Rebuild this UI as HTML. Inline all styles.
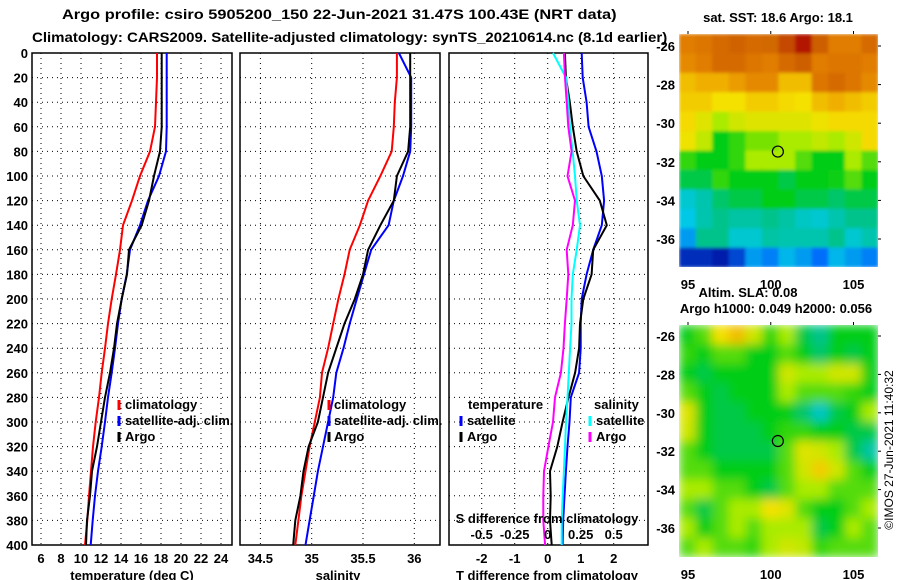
<!DOCTYPE html>
<html><head><meta charset="utf-8"><style>
body{margin:0;background:#fff;}
svg{display:block;font-family:"Liberation Sans",Arial,sans-serif;font-weight:bold;}
</style></head><body>
<svg id="chart" width="900" height="580" viewBox="0 0 900 580" xmlns="http://www.w3.org/2000/svg">
<defs>
<filter id="blur" x="-5%" y="-5%" width="110%" height="110%"><feGaussianBlur stdDeviation="5" edgeMode="duplicate"/></filter>
<clipPath id="slaclip"><rect x="679" y="325" width="199" height="232"/></clipPath>
<filter id="blur2" x="-5%" y="-5%" width="110%" height="110%"><feGaussianBlur stdDeviation="1.5" edgeMode="duplicate"/></filter>
<clipPath id="sstclip"><rect x="679" y="34" width="199" height="233"/></clipPath>
</defs>
<rect width="900" height="580" fill="#fff"/>
<text id="t1" x="0" y="0" font-size="14">Argo profile: csiro 5905200_150 22-Jun-2021 31.47S 100.43E (NRT data)</text>
<text id="t2" x="0" y="0" font-size="14">Climatology: CARS2009. Satellite-adjusted climatology: synTS_20210614.nc (8.1d earlier)</text>
<g id="g"></g>
</svg>
<script>
const depths=[0,20,40,60,80,100,120,140,160,180,200,220,240,260,280,300,320,340,360,380,400];
const tempClim=[17.6,17.6,17.5,17.4,16.9,15.9,15.1,14.2,13.9,13.5,13.07,12.7,12.4,12.07,11.8,11.47,11.2,11.0,10.8,10.63,10.4];
const tempSat=[18.57,18.57,18.57,18.57,18.5,17.8,16.7,15.9,14.9,14.57,14.07,13.7,13.4,13.07,12.7,12.4,12.07,11.7,11.4,11.17,10.97];
const tempArgo=[18.07,18.07,18.07,18.07,17.9,17.3,16.8,16.07,14.8,14.6,14.07,13.6,13.3,12.9,12.4,12.0,11.6,11.1,10.9,10.6,10.5];
const salClim=[35.83,35.83,35.81,35.8,35.78,35.67,35.55,35.47,35.37,35.32,35.26,35.21,35.16,35.1,35.08,35.03,34.98,34.94,34.9,34.87,34.84];
const salSat=[35.85,35.97,35.97,35.97,35.96,35.89,35.8,35.75,35.58,35.51,35.44,35.37,35.31,35.24,35.21,35.16,35.11,35.06,35.02,34.98,34.94];
const salArgo=[35.96,35.96,35.96,35.96,35.94,35.83,35.8,35.67,35.55,35.5,35.42,35.32,35.24,35.16,35.11,35.06,34.97,34.92,34.89,34.84,34.82];
const tDiffSat=[1.03,1.06,1.18,1.24,1.48,1.64,1.71,1.64,1.38,1.18,1.03,1.0,1.0,0.95,0.7,0.66,0.6,0.55,0.51,0.47,0.45];
const tDiffArgo=[0.52,0.55,0.67,0.76,0.88,1.08,1.58,1.79,1.38,1.33,1.08,0.98,0.95,0.83,0.63,0.45,0.29,0.07,0.09,0.07,0.12];
const sDiffSat=[0.04,0.139,0.156,0.169,0.189,0.207,0.22,0.245,0.22,0.19,0.18,0.18,0.17,0.16,0.15,0.139,0.131,0.123,0.114,0.106,0.106];
const sDiffArgo=[0.123,0.131,0.144,0.156,0.181,0.15,0.207,0.19,0.144,0.156,0.144,0.13,0.12,0.1,0.055,0.04,0.005,-0.028,-0.033,-0.033,-0.02];
const tTicks=[6,8,10,12,14,16,18,20,22,24];
const sTicks=[34.5,35,35.5,36];
const dTicks=[-2,-1,0,1,2];
const sdTicks=[-0.5,-0.25,0,0.25,0.5];
const sstGrid=[
[.8,.82,.85,.87,.85,.86,.9,.95,.88,.8,.8,.85],
[.78,.8,.85,.85,.82,.8,.85,.88,.8,.82,.82,.8],
[.7,.72,.72,.75,.78,.78,.7,.7,.82,.85,.82,.78],
[.68,.68,.65,.65,.68,.68,.66,.65,.7,.72,.7,.68],
[.66,.62,.55,.6,.62,.62,.62,.62,.64,.66,.66,.66],
[.64,.58,.45,.48,.52,.52,.55,.55,.58,.55,.6,.66],
[.48,.45,.45,.48,.55,.55,.55,.5,.45,.45,.55,.5],
[.42,.42,.48,.45,.45,.45,.42,.45,.45,.46,.5,.45],
[.32,.35,.4,.42,.42,.45,.45,.42,.42,.4,.42,.42],
[.3,.35,.38,.36,.36,.38,.36,.33,.32,.35,.38,.38],
[.25,.38,.38,.32,.32,.36,.35,.35,.35,.38,.32,.35],
[.12,.12,.1,.15,.25,.22,.28,.25,.2,.28,.25,.22]];
const slaGrid=[
[.45,.5,.65,.7,.6,.48,.55,.42,.38,.45,.45,.45],
[.48,.45,.5,.5,.45,.45,.5,.45,.4,.45,.42,.45],
[.45,.42,.45,.45,.45,.45,.6,.55,.55,.6,.6,.45],
[.5,.45,.42,.45,.45,.45,.55,.5,.5,.5,.48,.45],
[.62,.45,.42,.42,.45,.45,.45,.4,.33,.42,.45,.55],
[.6,.45,.42,.42,.42,.45,.48,.48,.45,.45,.42,.42],
[.5,.45,.42,.42,.42,.42,.5,.62,.6,.55,.42,.36],
[.5,.5,.45,.45,.45,.45,.5,.6,.68,.6,.5,.45],
[.55,.55,.5,.5,.45,.42,.5,.55,.55,.5,.5,.5],
[.5,.42,.5,.55,.55,.65,.62,.5,.45,.45,.5,.55],
[.55,.45,.5,.55,.5,.55,.55,.55,.42,.45,.55,.5],
[.5,.55,.5,.5,.48,.55,.6,.58,.48,.5,.5,.5]];
const latTicks=[-26,-28,-30,-32,-34,-36];
const lonTicks=[95,100,105];
const argoLon=100.43, argoLat=-31.47;

const NS="http://www.w3.org/2000/svg";
const G=document.getElementById('g');
function fitText(id,x,y,w){const t=document.getElementById(id);const L=t.getComputedTextLength();t.setAttribute('transform','translate('+x+','+y+') scale('+(w/L)+',1)');}
fitText('t1',62,19,555);
fitText('t2',32,42,636);
function el(t,a,p){const e=document.createElementNS(NS,t);for(const k in a)e.setAttribute(k,a[k]);(p||G).appendChild(e);return e;}
const top0=53,bot=545;
const yD=d=>top0+(bot-top0)*d/400;
function panel(name,x0,x1){
  const r=el('rect',{x:x0,y:top0,width:x1-x0,height:bot-top0,fill:'none',stroke:'#000','stroke-width':1.5});
  
  
  for(let d=20;d<400;d+=20){
    const l=el('line',{x1:x0,x2:x1,y1:yD(d),y2:yD(d),stroke:'#000','stroke-dasharray':'1 4','stroke-width':1});
    
    
  }
}
function vgrid(name,xs){
  xs.forEach(x=>{const l=el('line',{x1:x,x2:x,y1:top0,y2:bot,stroke:'#000','stroke-dasharray':'1 4','stroke-width':1});
  
  });
}
function line(name,vals,fx,color){
  let p='';
  vals.forEach((v,i)=>{p+=(i?'L':'M')+fx(v).toFixed(1)+','+yD(depths[i]).toFixed(1);});
  const e=el('path',{d:p,fill:'none',stroke:color,'stroke-width':2});
  
  
}
function txt(name,x,y,s,size,anchor,parent){
  const t=el('text',{x:x,y:y,'font-size':size||13,'text-anchor':anchor||'start'},parent);t.textContent=s;
  
  
  return t;
}
function legMark(name,x,y,c){
  const l=el('line',{x1:x,x2:x,y1:y-10,y2:y,stroke:c,'stroke-width':3});
  
  
}
for(let d=0;d<=400;d+=20){txt('depth-tick-label',28,yD(d)+5,String(d),13,'end');}
// Panel 1
const xT=v=>41+(v-6)*10;
panel('temperature-panel',32,232);
vgrid('temperature',tTicks.map(xT));
line('temp-climatology-line',tempClim,xT,'#f00');
line('temp-satellite-line',tempSat,xT,'#00f');
line('temp-argo-line',tempArgo,xT,'#000');
tTicks.forEach(t=>txt('temp-tick-label',xT(t),563,String(t),13,'middle'));
txt('temp-axis-title',132,580,'temperature (deg C)',13,'middle');
[['climatology','#f00'],['satellite-adj. clim.','#00f'],['Argo','#000']].forEach((a,i)=>{legMark('temp-legend-marker',119,410+i*16,a[1]);txt('temp-legend-entry',125,409+i*16,a[0],13);});
// Panel 2
const xS=v=>311.7+(v-35)*102.6;
panel('salinity-panel',240,440);
vgrid('salinity',sTicks.map(xS));
line('sal-climatology-line',salClim,xS,'#f00');
line('sal-satellite-line',salSat,xS,'#00f');
line('sal-argo-line',salArgo,xS,'#000');
sTicks.forEach(t=>txt('sal-tick-label',xS(t),563,String(t),13,'middle'));
txt('sal-axis-title',338,580,'salinity',13,'middle');
[['climatology','#f00'],['satellite-adj. clim.','#00f'],['Argo','#000']].forEach((a,i)=>{legMark('sal-legend-marker',329,410+i*16,a[1]);txt('sal-legend-entry',334,409+i*16,a[0],13);});
// Panel 3
const xD=v=>547.7+v*33;
const xSD=v=>547.7+v*132;
panel('difference-panel',449,648);
vgrid('difference',dTicks.map(xD));
line('tdiff-satellite-line',tDiffSat,xD,'#00f');
line('tdiff-argo-line',tDiffArgo,xD,'#000');
line('sdiff-satellite-line',sDiffSat,xSD,'#0ff');
line('sdiff-argo-line',sDiffArgo,xSD,'#f0f');
dTicks.forEach(t=>txt('tdiff-tick-label',xD(t),563,String(t),13,'middle'));
sdTicks.forEach(t=>txt('sdiff-tick-label',xSD(t),539,String(t),13,'middle'));
txt('sdiff-axis-title',547,523,'S difference from climatology',13,'middle');
txt('tdiff-axis-title',547,580,'T difference from climatology',13,'middle');
txt('tdiff-legend-title',468,409,'temperature',13);
txt('sdiff-legend-title',594,409,'salinity',13);
legMark('tdiff-legend-marker',461,426,'#00f');txt('tdiff-legend-entry',467,425,'satellite',13);
legMark('tdiff-legend-marker',461,442,'#000');txt('tdiff-legend-entry',467,441,'Argo',13);
legMark('sdiff-legend-marker',590,426,'#0ff');txt('sdiff-legend-entry',596,425,'satellite',13);
legMark('sdiff-legend-marker',590,442,'#f0f');txt('sdiff-legend-entry',596,441,'Argo',13);
// colormap
const cmapStops=[[0.1,[0,30,170]],[0.2,[0,110,250]],[0.3,[0,200,230]],[0.38,[0,195,140]],[0.45,[0,205,20]],[0.55,[170,235,0]],[0.65,[245,225,0]],[0.72,[240,175,0]],[0.8,[225,125,0]],[0.88,[205,95,0]],[0.97,[170,0,0]]];
function cmap(v){
  if(v<=cmapStops[0][0])return 'rgb('+cmapStops[0][1]+')';
  for(let i=1;i<cmapStops.length;i++){
    if(v<=cmapStops[i][0]){const a=cmapStops[i-1],b=cmapStops[i];const f=(v-a[0])/(b[0]-a[0]);
      return 'rgb('+a[1].map((c,k)=>Math.round(c+(b[1][k]-c)*f)).join(',')+')';}
  }
  return 'rgb('+cmapStops[cmapStops.length-1][1]+')';
}
function map(name,grid,x0,x1,y0,y1,lat26y,lat36y,filt,clip){
  const lonX=l=>688+(l-95)*16.55;
  const latY=l=>lat26y+(-26-l)*(lat36y-lat26y)/10;
  const rows=grid.length,cols=grid[0].length;
  const cw=(x1-x0)/cols,ch=(y1-y0)/rows;
  const wrap=el('g',{'clip-path':'url(#'+clip+')'});
  
  
  const cg=el('g',{filter:'url(#'+filt+')'},wrap);
  grid.forEach((row,i)=>row.forEach((v,j)=>{
    const c=el('rect',{x:(x0+j*cw).toFixed(2),y:(y0+i*ch).toFixed(2),width:(cw+0.6).toFixed(2),height:(ch+0.6).toFixed(2),fill:cmap(v)},cg);
    
    
  }));
  latTicks.forEach(l=>{el('line',{x1:x1,x2:x1+3,y1:latY(l),y2:latY(l),stroke:'#000'});txt(name+'-lat-label',675,latY(l)+5,String(l),13,'end');});
  lonTicks.forEach(l=>{el('line',{x1:lonX(l),x2:lonX(l),y1:y0,y2:y0-3,stroke:'#000'});});
  const m=el('circle',{cx:lonX(argoLon),cy:latY(argoLat),r:5.5,fill:'none',stroke:'#000','stroke-width':1.2});
  
  
  return lonX;
}
const lx=map('sst-map',sstGrid,679,878,34,267,46,239,'blur2','sstclip');
lonTicks.forEach(l=>txt('sst-lon-label',lx(l),289,String(l),13,'middle'));
txt('sst-map-title',778,22,'sat. SST: 18.6 Argo: 18.1',13,'middle');
txt('sla-map-title',748,297,'Altim. SLA: 0.08',13,'middle');
txt('sla-map-subtitle',776,313,'Argo h1000: 0.049 h2000: 0.056',13,'middle');
map('sla-map',slaGrid,679,878,325,557,336,528,'blur','slaclip');
lonTicks.forEach(l=>txt('sla-lon-label',lx(l),579,String(l),13,'middle'));
const cr=txt('imos-credit',0,0,'©IMOS 27-Jun-2021 11:40:32',12,'middle');
cr.setAttribute('font-weight','normal');
cr.setAttribute('transform','translate(893,450) rotate(-90)');
</script>
</body></html>
